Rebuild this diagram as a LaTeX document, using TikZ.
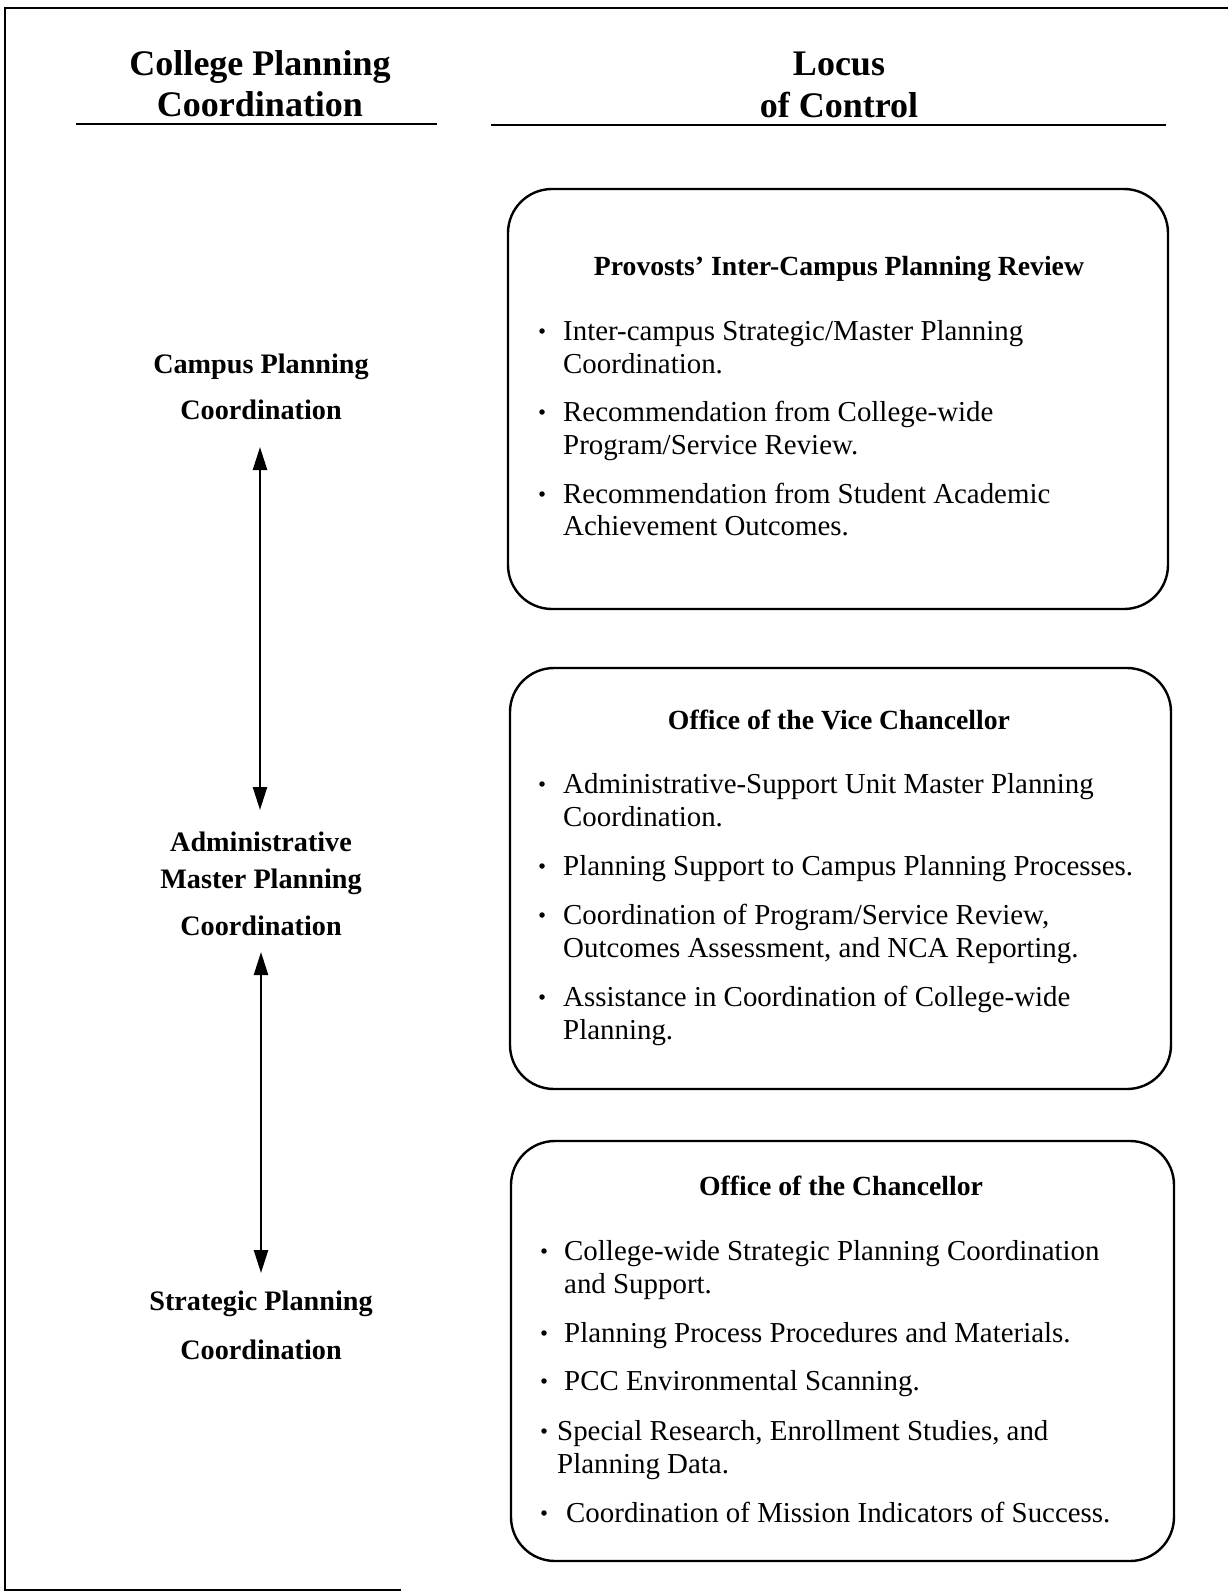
\documentclass[tikz,border=0pt]{standalone}
\usepackage{fontspec}
\setmainfont{Liberation Serif}
\usetikzlibrary{arrows.meta}
\tikzset{
  frameline/.style={line width=2.4pt},
  ruleline/.style={line width=2pt},
  boxshape/.style={draw, line width=2.4pt, rounded corners=44pt, inner sep=0pt},
  hdr/.style={font=\bfseries\fontsize{36}{40}\selectfont, anchor=base, inner sep=0pt},
  lbl/.style={font=\bfseries\fontsize{28.2}{32}\selectfont, anchor=base, inner sep=0pt},
  ttl/.style={font=\bfseries\fontsize{27.7}{32}\selectfont, anchor=base, inner sep=0pt},
  itm/.style={font=\fontsize{28.9}{32}\selectfont, anchor=base west, inner sep=0pt},
  bul/.style={circle, fill=black, inner sep=0pt, minimum size=5.5pt},
  dbl/.style={line width=2.4pt, {Triangle[length=23pt,width=14pt]}-{Triangle[length=23pt,width=14pt]}}
}
\begin{document}
\begin{tikzpicture}[x=1pt,y=-1pt]
\useasboundingbox (0,0) rectangle (1228,1593);
% outer frame (open on right)
\draw[frameline] (1228,8) -- (5,8) -- (5,1590) -- (401,1590);
% headers
\node[hdr] (h1a) at (260,75) {College Planning};
\node[hdr] (h1b) at (260,116) {Coordination};
\node[hdr] (h2a) at (839,75) {Locus};
\node[hdr] (h2b) at (839,117) {of Control};
\draw[ruleline] (76,124) -- (437,124);
\draw[ruleline] (491,125) -- (1166,125);
% left labels
\node[lbl] (l1a) at (261,373) {Campus Planning};
\node[lbl] (l1b) at (261,419) {Coordination};
\node[lbl] (l2a) at (261,851) {Administrative};
\node[lbl] (l2b) at (261,888) {Master Planning};
\node[lbl] (l2c) at (261,935) {Coordination};
\node[lbl] (l3a) at (261,1310) {Strategic Planning};
\node[lbl] (l3b) at (261,1359) {Coordination};
\coordinate (a1t) at (260,447);
\coordinate (a1b) at (260,810);
\coordinate (a2t) at (261,952);
\coordinate (a2b) at (261,1273);
\draw[dbl] (a1t) -- (a1b);
\draw[dbl] (a2t) -- (a2b);
% boxes
\node[boxshape, minimum width=660pt, minimum height=420pt] (box1) at (838,399) {};
\node[boxshape, minimum width=661pt, minimum height=421pt] (box2) at (840.5,878.5) {};
\node[boxshape, minimum width=663pt, minimum height=420pt] (box3) at (842.5,1351) {};
% box 1
\node[ttl] (t1) at (839,275) {Provosts’ Inter-Campus Planning Review};
\node[bul] (p1a) at (542,331) {};
\node[itm] (i1a) at (563,340) {Inter-campus Strategic/Master Planning};
\node[itm] (i1b) at (563,373) {Coordination.};
\node[bul] (p1b) at (542,412) {};
\node[itm] (i1c) at (563,421) {Recommendation from College-wide};
\node[itm] (i1d) at (563,454) {Program/Service Review.};
\node[bul] (p1c) at (542,494) {};
\node[itm] (i1e) at (563,503) {Recommendation from Student Academic};
\node[itm] (i1f) at (563,535) {Achievement Outcomes.};
% box 2
\node[ttl] (t2) at (839,729) {Office of the Vice Chancellor};
\node[bul] (p2a) at (542,784) {};
\node[itm] (i2a) at (563,793) {Administrative-Support Unit Master Planning};
\node[itm] (i2b) at (563,826) {Coordination.};
\node[bul] (p2b) at (542,866) {};
\node[itm] (i2c) at (563,875) {Planning Support to Campus Planning Processes.};
\node[bul] (p2c) at (542,915) {};
\node[itm] (i2d) at (563,924) {Coordination of Program/Service Review,};
\node[itm] (i2e) at (563,957) {Outcomes Assessment, and NCA Reporting.};
\node[bul] (p2d) at (542,997) {};
\node[itm] (i2f) at (563,1006) {Assistance in Coordination of College-wide};
\node[itm] (i2g) at (563,1039) {Planning.};
% box 3
\node[ttl] (t3) at (841,1195) {Office of the Chancellor};
\node[bul] (p3a) at (544,1251) {};
\node[itm] (i3a) at (564,1260) {College-wide Strategic Planning Coordination};
\node[itm] (i3b) at (564,1293) {and Support.};
\node[bul] (p3b) at (544,1333) {};
\node[itm] (i3c) at (564,1342) {Planning Process Procedures and Materials.};
\node[bul] (p3c) at (544,1381) {};
\node[itm] (i3d) at (564,1390) {PCC Environmental Scanning.};
\node[bul] (p3d) at (544,1431) {};
\node[itm] (i3e) at (557,1440) {Special Research, Enrollment Studies, and};
\node[itm] (i3f) at (557,1473) {Planning Data.};
\node[bul] (p3e) at (544,1513) {};
\node[itm] (i3g) at (566,1522) {Coordination of Mission Indicators of Success.};
\end{tikzpicture}
\end{document}
